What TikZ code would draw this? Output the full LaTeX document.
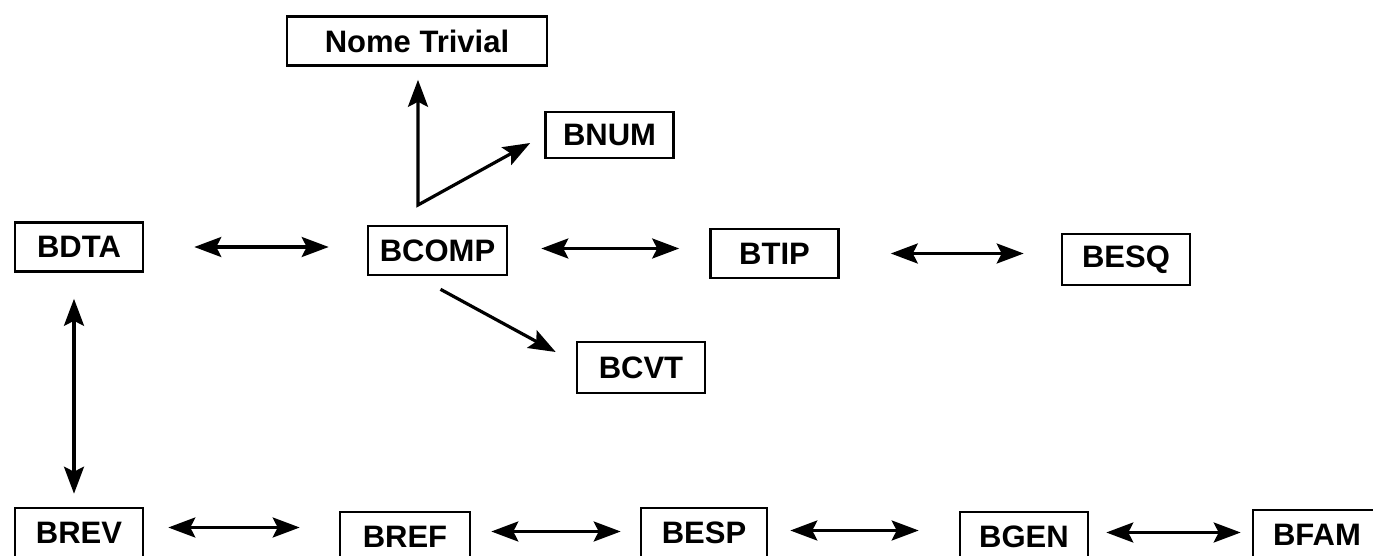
\documentclass[tikz,border=0pt]{standalone}
\usepackage{fontspec}
\setmainfont{Liberation Sans}
\usetikzlibrary{arrows.meta, positioning}

\begin{document}
\begin{tikzpicture}[x=0.5pt, y=-0.5pt,
			>={Stealth[length=13.5pt, width=10pt, inset=2.5pt]},
			line width=1.6pt,
			bloco/.style={draw, line width=1.3pt, inner sep=0pt,
				minimum height=24.5pt, minimum width=64pt,
				font=\fontsize{15.5}{18}\selectfont\bfseries}]

			\useasboundingbox (0,0) rectangle (1373,556);

			% top part
			\node[bloco, minimum width=130pt] (nome) at (417,41) {Nome Trivial};
			\node[bloco, minimum height=23pt] (bnum) at (609.5,135) {BNUM};
			\node[bloco] (bdta) at (79,247) {BDTA};
			\node[bloco, minimum width=69.5pt] (bcomp) at (437.5,250.5) {BCOMP};
			\node[bloco] (btip) at (774.5,253.5) {BTIP};
			\node[bloco, minimum height=25.5pt] (besq) at (1126,259.5) {BESQ};
			\node[bloco, minimum height=25.5pt] (bcvt) at (641,367.5) {BCVT};

			% bottom row
			\node[bloco] (brev) at (79,532.5) {BREV};
			\node[bloco, minimum width=65pt] (bref) at (405,536.5) {BREF};
			\node[bloco, minimum width=63pt] (besp) at (704,532.5) {BESP};
			\node[bloco] (bgen) at (1024,536.5) {BGEN};
			\node[bloco] (bfam) at (1317,534.5) {BFAM};

			\coordinate (ramo) at (418,205);

			\draw[<->, shorten <=25pt, shorten >=19pt] (bdta.east) -- (bdta.east -| bcomp.west);
			\draw[<->, shorten <=16.5pt, shorten >=15pt] ([yshift=1pt]bcomp.east) -- ([yshift=1pt]bcomp.east -| btip.west);
			\draw[<->, shorten <=25.5pt, shorten >=18.5pt] (btip.east) -- (btip.east -| besq.west);
			\draw[<->, shorten <=13pt, shorten >=6.5pt] ([xshift=-2.5pt]bdta.south) -- ([xshift=-2.5pt]brev.north);

			\draw[<->, shorten <=6.5pt, line join=miter] (ramo |- nome.south) -- (ramo) -- ([xshift=-7pt, yshift=-4pt]bnum.west);
			\draw[->] ([xshift=1.5pt, yshift=-6.5pt]bcomp.south) -- ([xshift=-10pt, yshift=7.75pt]bcvt.west);

			\draw[<->, shorten <=12pt, shorten >=19.5pt] ([yshift=2.5pt]brev.east) -- ([yshift=2.5pt]brev.east -| bref.west);
			\draw[<->, shorten <=10pt, shorten >=9.5pt] ([yshift=2.5pt]bref.east) -- ([yshift=2.5pt]bref.east -| besp.west);
			\draw[<->, shorten <=11pt, shorten >=20pt] ([yshift=1pt]besp.east) -- ([yshift=1pt]besp.east -| bgen.west);
			\draw[<->, shorten <=8.5pt, shorten >=5.5pt] ([yshift=2pt]bgen.east) -- ([yshift=2pt]bgen.east -| bfam.west);
		\end{tikzpicture}
\end{document}
